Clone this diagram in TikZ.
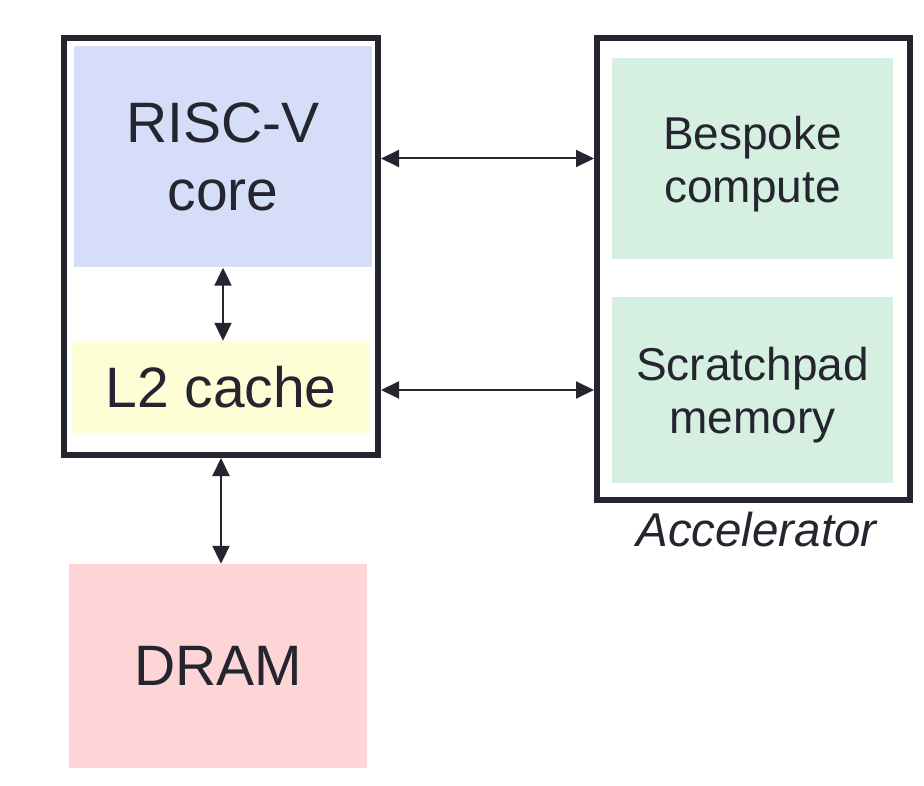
\documentclass[tikz,border=0pt]{standalone}
\usepackage{fontspec}
\setmainfont{Liberation Sans}
\usetikzlibrary{positioning, arrows.meta}
\definecolor{ink}{HTML}{25252F}
\definecolor{corefill}{HTML}{D6DDF8}
\definecolor{cachefill}{HTML}{FDFDD6}
\definecolor{memfill}{HTML}{FDD5D6}
\definecolor{accfill}{HTML}{D5F0E1}
\tikzset{
    chip/.style={rectangle, draw=ink, line width=6pt, minimum width=314pt},
    unit/.style={rectangle, inner sep=0pt, text=ink, align=center, minimum width=298pt, font=\fontsize{57}{68}\selectfont},
    accunit/.style={rectangle, inner sep=0pt, text=ink, align=center, fill=accfill, minimum width=281pt, text height=97pt, font=\fontsize{46}{53}\selectfont},
    tag/.style={text=ink, font=\fontsize{47.5}{53}\selectfont\itshape},
    bus/.style={draw=ink, line width=2pt, {Triangle[length=18pt,width=17pt]}-{Triangle[length=18pt,width=17pt]}},
}
\begin{document}
\begin{tikzpicture}[x=1pt, y=-1pt]
            \useasboundingbox (0,0) rectangle (924,786);
            \node [chip, minimum height=417pt] (cpu) at (221,246.5) {};
            \node [chip, minimum width=313pt, minimum height=461pt] (accel) at (753.5,269) {};
            \node [unit, fill=corefill, minimum height=221pt] (core) at (223,157) {RISC-V\\core};
            \node [unit, fill=cachefill, minimum height=92pt] (l2) at (221,387) {L2 cache};
            \node [unit, fill=memfill, minimum height=204pt] (dram) at (218,666) {DRAM};
            \node [accunit, minimum height=201pt] (bespoke) at (752.5,158.5) {Bespoke\\compute};
            \node [accunit, minimum height=186pt] (scratch) at (752.5,390) {Scratchpad\\memory};
            \node [tag, below=6pt of accel, xshift=3pt] (acclabel) {Accelerator};
            \draw [bus] (core.south) -- (core.south |- l2.north);
            \draw [bus] (cpu.south) -- (cpu.south |- dram.north);
            \draw [bus] (cpu.east |- bespoke) -- (bespoke -| accel.west);
            \draw [bus] (cpu.east |- scratch) -- (scratch -| accel.west);
        \end{tikzpicture}
\end{document}
